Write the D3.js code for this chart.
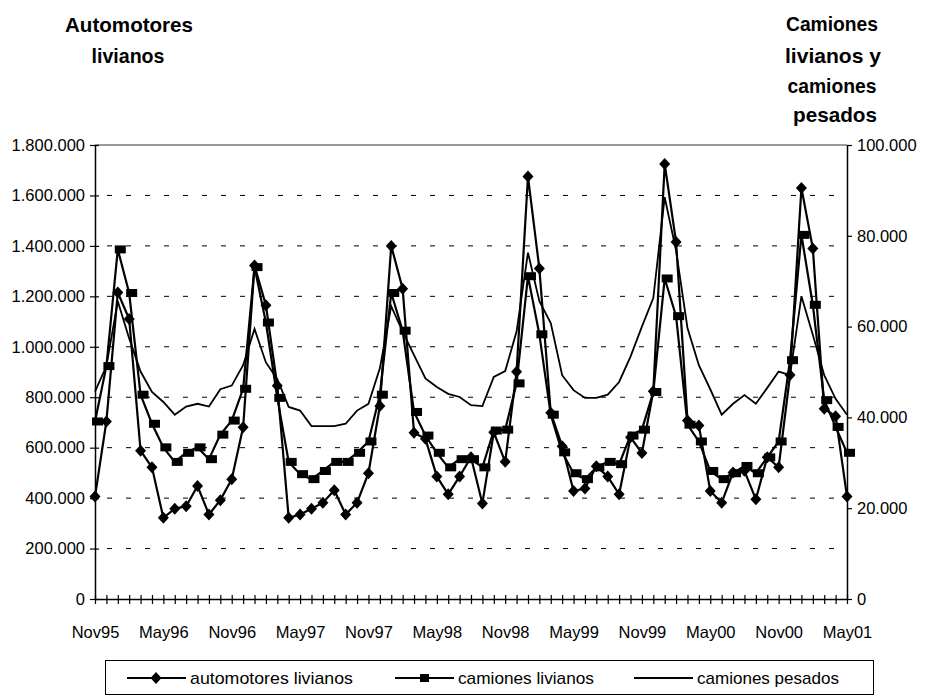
<!DOCTYPE html>
<html><head><meta charset="utf-8">
<script src="https://cdn.jsdelivr.net/npm/d3@7"></script>
<style>body{margin:0;background:#fff}svg{display:block}text{font-family:"Liberation Sans",Arial,sans-serif;fill:#000}</style>
</head><body><svg id="c" width="933" height="696"></svg>
<script>
const months = ["Nov95","Dec95","Jan96","Feb96","Mar96","Apr96","May96","Jun96","Jul96","Aug96","Sep96","Oct96",
"Nov96","Dec96","Jan97","Feb97","Mar97","Apr97","May97","Jun97","Jul97","Aug97","Sep97","Oct97",
"Nov97","Dec97","Jan98","Feb98","Mar98","Apr98","May98","Jun98","Jul98","Aug98","Sep98","Oct98",
"Nov98","Dec98","Jan99","Feb99","Mar99","Apr99","May99","Jun99","Jul99","Aug99","Sep99","Oct99",
"Nov99","Dec99","Jan00","Feb00","Mar00","Apr00","May00","Jun00","Jul00","Aug00","Sep00","Oct00",
"Nov00","Dec00","Jan01","Feb01","Mar01","Apr01","May01"];
const xLabels = ["Nov95","May96","Nov96","May97","Nov97","May98","Nov98","May99","Nov99","May00","Nov00","May01"];
const automotoresLivianos = [406000,704000,1215000,1110000,588000,522000,322000,358000,368000,448000,335000,392000,
475000,681000,1322000,1165000,845000,322000,335000,358000,382000,431000,335000,382000,
499000,765000,1400000,1230000,659000,635000,486000,415000,486000,562000,379000,661000,
544000,901000,1675000,1310000,738000,606000,428000,438000,526000,486000,415000,641000,
579000,824000,1725000,1415000,708000,688000,428000,382000,502000,508000,395000,562000,
522000,888000,1630000,1390000,754000,725000,406000];
const camionesLivianos = [39100,51300,77000,67400,45000,38600,33400,30200,32200,33400,30800,36200,
39300,46300,73100,60900,44300,30200,27500,26400,28200,30200,30200,32200,
34700,45000,67400,59100,41200,36000,32200,29000,30800,30800,29000,37100,
37300,47500,71100,58300,40600,32300,27700,26400,29000,30200,29700,36000,
37300,45600,70600,62300,38400,34700,28200,26400,27700,29300,27700,31200,
34700,52600,80200,64800,43800,37900,32200];
const camionesPesados = [45700,51300,65600,57400,50100,45600,43400,40600,42400,43000,42400,46200,
47000,51500,59500,52100,48400,42300,41500,38100,38100,38100,38600,41500,
43000,50800,64500,58900,53700,48600,46700,45200,44500,42700,42500,48900,
50200,58900,76300,65600,60800,49300,46000,44300,44300,45000,47800,53400,
60000,66300,88500,76700,59700,51500,46200,40600,43000,44900,43000,46500,
50100,49300,66700,58200,49300,44100,40600];
const leftTicks = [0,200000,400000,600000,800000,1000000,1200000,1400000,1600000,1800000];
const rightTicks = [0,20000,40000,60000,80000,100000];
const legendLabels = ["automotores livianos","camiones livianos","camiones pesados"];

const svg = d3.select("#c");
const L=95, R=847, T=145, B=599;
const x = d3.scalePoint().domain(months).range([L,R]);
const yL = d3.scaleLinear().domain([0,1800000]).range([B,T]);
const yR = d3.scaleLinear().domain([0,100000]).range([B,T]);
const fmt = v => d3.format(",")(v).replace(/,/g,".");

svg.append("g").selectAll("line").data(leftTicks.filter(d=>d>0 && d<1800000)).join("line")
  .attr("x1",L).attr("x2",R).attr("y1",d=>yL(d)).attr("y2",d=>yL(d))
  .attr("stroke","#000").attr("stroke-width",1).attr("stroke-dasharray","5,14").attr("stroke-dashoffset",-12);
svg.append("line").attr("x1",L).attr("x2",R).attr("y1",T).attr("y2",T).attr("stroke","#999").attr("stroke-width",2);

const axL = svg.append("g").attr("transform",`translate(${L},0)`)
  .call(d3.axisLeft(yL).tickValues(leftTicks).tickFormat(fmt).tickSizeInner(5).tickSizeOuter(0).tickPadding(5));
axL.selectAll(".tick line").attr("x2",4).attr("x1",-5);
const axR = svg.append("g").attr("transform",`translate(${R},0)`)
  .call(d3.axisRight(yR).tickValues(rightTicks).tickFormat(fmt).tickSizeInner(5).tickSizeOuter(0).tickPadding(5));
const axB = svg.append("g").attr("transform",`translate(0,${B})`)
  .call(d3.axisBottom(x).tickValues(months).tickFormat(d=>xLabels.includes(d)?d:"").tickSizeInner(5).tickSizeOuter(0).tickPadding(22));
axB.selectAll(".tick line").attr("y1",-4).attr("y2",5);
[axL,axR,axB].forEach(a=>{
  a.selectAll("text").style("font-size","16.5px").style("font-family",'"Liberation Sans",Arial,sans-serif').attr("fill","#000");
  a.select(".domain").attr("stroke","#000").attr("stroke-width",1.5);
  a.selectAll(".tick line").attr("stroke","#000").attr("stroke-width",1.2);
});

const lineL = d3.line().x((d,i)=>x(months[i])).y(d=>yL(d));
const lineR = d3.line().x((d,i)=>x(months[i])).y(d=>yR(d));
svg.append("path").datum(camionesPesados).attr("d",lineR).attr("fill","none").attr("stroke","#000").attr("stroke-width",1.8);
svg.append("path").datum(camionesLivianos).attr("d",lineR).attr("fill","none").attr("stroke","#000").attr("stroke-width",2.2);
svg.append("path").datum(automotoresLivianos).attr("d",lineL).attr("fill","none").attr("stroke","#000").attr("stroke-width",2.2);
const diamond = "M0,-6L5.5,0L0,6L-5.5,0Z";
svg.append("g").selectAll("rect").data(camionesLivianos).join("rect")
  .attr("x",(d,i)=>x(months[i])-3).attr("y",d=>yR(d)-4).attr("width",11).attr("height",8).attr("fill","#000");
svg.append("g").selectAll("path").data(automotoresLivianos).join("path")
  .attr("d",diamond).attr("transform",(d,i)=>`translate(${x(months[i])},${yL(d)})`).attr("fill","#000");

const tl = svg.append("g").style("font-weight","bold").style("font-size","21px");
const titles = [["Automotores",129,32,128],["livianos",128,63,73],
  ["Camiones",832,31,92],["livianos y",833,63,96],["camiones",832,93,89],["pesados",835,122,84]];
titles.forEach(r=>tl.append("text").attr("x",r[1]).attr("y",r[2]).attr("text-anchor","middle").attr("textLength",r[3]).attr("lengthAdjust","spacingAndGlyphs").text(r[0]));

const lg = svg.append("g");
lg.append("rect").attr("x",105.5).attr("y",660.5).attr("width",768).attr("height",34).attr("fill","none").attr("stroke","#000").attr("stroke-width",1);
const lx = [127,395,634];
const lw = [163,136,142];
legendLabels.forEach((t,i)=>{
  const g = lg.append("g").attr("transform",`translate(${lx[i]},678)`);
  g.append("line").attr("x1",0).attr("x2",59).attr("stroke","#000").attr("stroke-width",2.2);
  if(i===0) g.append("path").attr("d",diamond).attr("transform","translate(29,0)");
  if(i===1) g.append("rect").attr("x",25).attr("y",-4).attr("width",9).attr("height",8);
  g.append("text").attr("x",63).attr("y",6).style("font-size","17px").attr("textLength",lw[i]).attr("lengthAdjust","spacingAndGlyphs").text(t);
});
</script></body></html>
